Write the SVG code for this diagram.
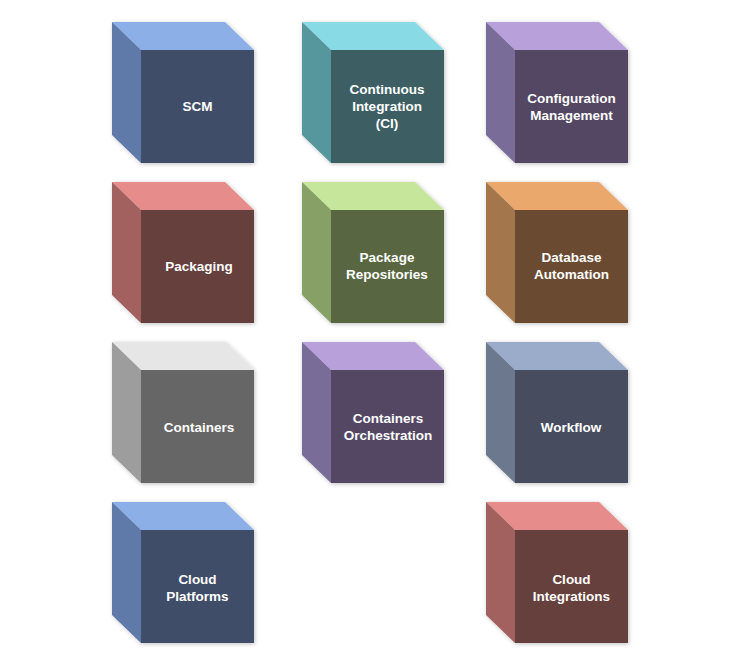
<svg xmlns="http://www.w3.org/2000/svg" width="742" height="662" viewBox="0 0 742 662">
<defs>
<filter id="sh" x="-10%" y="-10%" width="125%" height="125%">
<feDropShadow dx="1" dy="1" stdDeviation="2" flood-color="#000" flood-opacity="0.25"/>
</filter>
</defs>
<style>
text{font-family:"Liberation Sans",Arial,sans-serif;font-weight:bold;font-size:13.5px;fill:#fff;text-anchor:middle;dominant-baseline:central}
.cube{filter:url(#sh)}
.blue .top{fill:#8cafe8}.blue .left{fill:#5f79a8}.blue .front{fill:#404e69}
.teal .top{fill:#88dbe4}.teal .left{fill:#57969d}.teal .front{fill:#3d5f63}
.purple .top{fill:#b8a0da}.purple .left{fill:#7a6c98}.purple .front{fill:#524763}
.red .top{fill:#e68c8a}.red .left{fill:#a2605f}.red .front{fill:#663f3e}
.green .top{fill:#c6e69b}.green .left{fill:#86a065}.green .front{fill:#586642}
.orange .top{fill:#eaa86c}.orange .left{fill:#a3764c}.orange .front{fill:#6a4c31}
.gray .top{fill:#e6e6e6}.gray .left{fill:#9d9d9d}.gray .front{fill:#666666}
.slate .top{fill:#9babca}.slate .left{fill:#6c788e}.slate .front{fill:#474e5e}
</style>
<rect width="742" height="662" fill="#ffffff"/>
<g id="connectors"/>
<g id="scm" class="blue"><g class="cube" transform="translate(112,22)"><polygon class="top" points="0,0 113,0 142,28 29,28"/><polygon class="left" points="0,0 29,28 29,141 0,113"/><rect class="front" x="29" y="28" width="113" height="113"/></g><text x="197.5" y="106.5">SCM</text></g>
<g id="ci" class="teal"><g class="cube" transform="translate(302,22)"><polygon class="top" points="0,0 113,0 142,28 29,28"/><polygon class="left" points="0,0 29,28 29,141 0,113"/><rect class="front" x="29" y="28" width="113" height="113"/></g><text x="387" y="89.5">Continuous</text><text x="387" y="106.5">Integration</text><text x="387" y="123.5">(CI)</text></g>
<g id="config" class="purple"><g class="cube" transform="translate(486,22)"><polygon class="top" points="0,0 113,0 142,28 29,28"/><polygon class="left" points="0,0 29,28 29,141 0,113"/><rect class="front" x="29" y="28" width="113" height="113"/></g><text x="571.5" y="98">Configuration</text><text x="571.5" y="115">Management</text></g>
<g id="packaging" class="red"><g class="cube" transform="translate(112,182)"><polygon class="top" points="0,0 113,0 142,28 29,28"/><polygon class="left" points="0,0 29,28 29,141 0,113"/><rect class="front" x="29" y="28" width="113" height="113"/></g><text x="199" y="266">Packaging</text></g>
<g id="repos" class="green"><g class="cube" transform="translate(302,182)"><polygon class="top" points="0,0 113,0 142,28 29,28"/><polygon class="left" points="0,0 29,28 29,141 0,113"/><rect class="front" x="29" y="28" width="113" height="113"/></g><text x="387" y="257">Package</text><text x="387" y="274">Repositories</text></g>
<g id="db" class="orange"><g class="cube" transform="translate(486,182)"><polygon class="top" points="0,0 113,0 142,28 29,28"/><polygon class="left" points="0,0 29,28 29,141 0,113"/><rect class="front" x="29" y="28" width="113" height="113"/></g><text x="571.5" y="257">Database</text><text x="571.5" y="274">Automation</text></g>
<g id="containers" class="gray"><g class="cube" transform="translate(112,342)"><polygon class="top" points="0,0 113,0 142,28 29,28"/><polygon class="left" points="0,0 29,28 29,141 0,113"/><rect class="front" x="29" y="28" width="113" height="113"/></g><text x="199" y="427">Containers</text></g>
<g id="orch" class="purple"><g class="cube" transform="translate(302,342)"><polygon class="top" points="0,0 113,0 142,28 29,28"/><polygon class="left" points="0,0 29,28 29,141 0,113"/><rect class="front" x="29" y="28" width="113" height="113"/></g><text x="388" y="418">Containers</text><text x="388" y="435">Orchestration</text></g>
<g id="workflow" class="slate"><g class="cube" transform="translate(486,342)"><polygon class="top" points="0,0 113,0 142,28 29,28"/><polygon class="left" points="0,0 29,28 29,141 0,113"/><rect class="front" x="29" y="28" width="113" height="113"/></g><text x="571" y="427">Workflow</text></g>
<g id="cloudp" class="blue"><g class="cube" transform="translate(112,502)"><polygon class="top" points="0,0 113,0 142,28 29,28"/><polygon class="left" points="0,0 29,28 29,141 0,113"/><rect class="front" x="29" y="28" width="113" height="113"/></g><text x="197.5" y="579">Cloud</text><text x="197.5" y="596">Platforms</text></g>
<g id="cloudi" class="red"><g class="cube" transform="translate(486,502)"><polygon class="top" points="0,0 113,0 142,28 29,28"/><polygon class="left" points="0,0 29,28 29,141 0,113"/><rect class="front" x="29" y="28" width="113" height="113"/></g><text x="571.5" y="579">Cloud</text><text x="571.5" y="596">Integrations</text></g>
</svg>
